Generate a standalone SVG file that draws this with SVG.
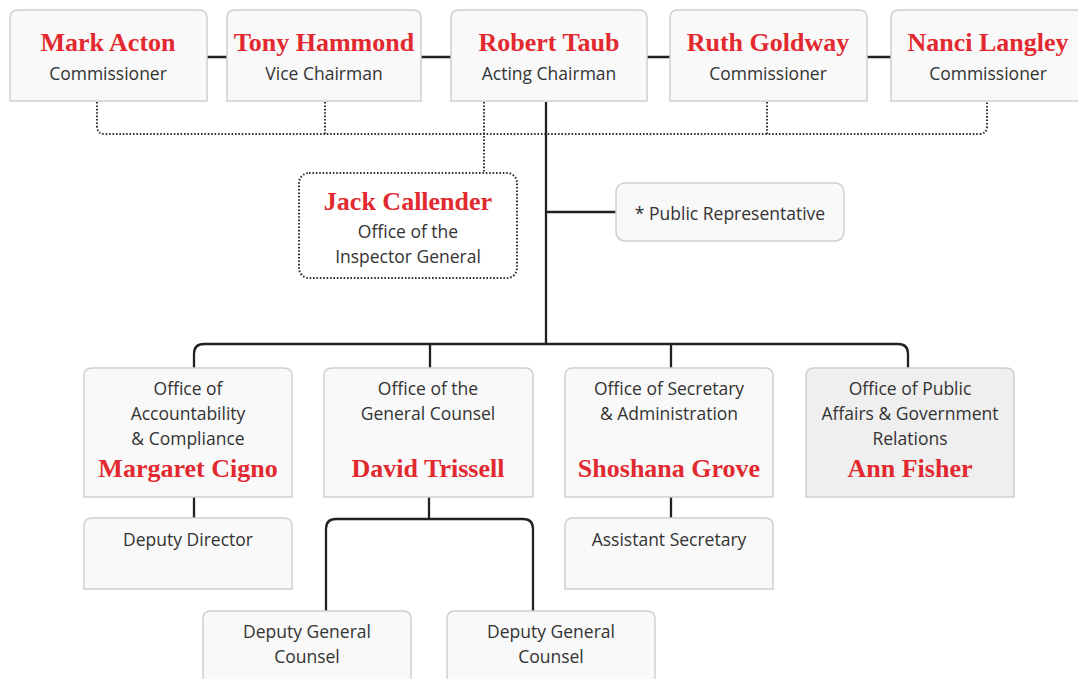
<svg xmlns="http://www.w3.org/2000/svg" width="1078" height="679" viewBox="0 0 1078 679">
<defs>
<style>
.box{fill:#f9f9f9;stroke:#cfcfcf;stroke-width:1.5}
.gray{fill:#efefef}
.dot{fill:none;stroke:#333;stroke-width:2;stroke-dasharray:1.6 1.8}
.line{fill:none;stroke:#222;stroke-width:2.3}
.name{font-family:"Liberation Serif",serif;font-weight:bold;font-size:26px;fill:#e2292f;text-anchor:middle}
.lab{font-family:"Open Sans","Liberation Sans",sans-serif;font-size:17.5px;fill:#333;text-anchor:middle}
</style>
</defs>
<rect width="1078" height="679" fill="#ffffff"/>
<g id="connectors">
<path class="line" d="M207 57H227M421 57H451M647 57H670M867 57H891"/>
<path class="dot" d="M97 102V126Q97 134 105 134H979Q987 134 987 126V102"/>
<path class="dot" d="M325 102V134M767 102V134M484 102V173"/>
<path class="line" d="M546 102V344M546 212H616"/>
<path class="line" d="M194 368V354Q194 344 204 344H898Q908 344 908 354V368"/>
<path class="line" d="M430 344V368M671 344V368"/>
<path class="line" d="M194 497V518M671 497V518"/>
<path class="line" d="M429 497V519M326 611V529Q326 519 336 519H523Q533 519 533 529V611"/>
</g>
<g id="n-acton"><path class="box" d="M10 101V18Q10 10 18 10H199Q207 10 207 18V101Z"/><text class="name" x="108" y="51">Mark Acton</text><text class="lab" x="108" y="80">Commissioner</text></g>
<g id="n-hammond"><path class="box" d="M227 101V18Q227 10 235 10H413Q421 10 421 18V101Z"/><text class="name" x="324" y="51">Tony Hammond</text><text class="lab" x="324" y="80">Vice Chairman</text></g>
<g id="n-taub"><path class="box" d="M451 101V18Q451 10 459 10H639Q647 10 647 18V101Z"/><text class="name" x="549" y="51">Robert Taub</text><text class="lab" x="549" y="80">Acting Chairman</text></g>
<g id="n-goldway"><path class="box" d="M670 101V18Q670 10 678 10H859Q867 10 867 18V101Z"/><text class="name" x="768" y="51">Ruth Goldway</text><text class="lab" x="768" y="80">Commissioner</text></g>
<g id="n-langley"><path class="box" d="M891 101V18Q891 10 899 10H1076Q1084 10 1084 18V101Z"/><text class="name" x="988" y="51">Nanci Langley</text><text class="lab" x="988" y="80">Commissioner</text></g>
<g id="n-callender"><rect x="299" y="173" width="218" height="105" rx="10" fill="#fdfdfd" class="dot"/><text class="name" x="408" y="210">Jack Callender</text><text class="lab" x="408" y="238">Office of the</text><text class="lab" x="408" y="263">Inspector General</text></g>
<g id="n-public"><rect class="box" x="616" y="183" width="228" height="58" rx="9"/><text class="lab" x="730" y="220">* Public Representative</text></g>
<g id="n-accountability"><path class="box" d="M84 497V376Q84 368 92 368H284Q292 368 292 376V497Z"/><text class="lab" x="188" y="395">Office of</text><text class="lab" x="188" y="420">Accountability</text><text class="lab" x="188" y="445">&amp; Compliance</text><text class="name" x="188" y="477">Margaret Cigno</text></g>
<g id="n-counsel"><path class="box" d="M324 497V376Q324 368 332 368H525Q533 368 533 376V497Z"/><text class="lab" x="428" y="395">Office of the</text><text class="lab" x="428" y="420">General Counsel</text><text class="name" x="428" y="477">David Trissell</text></g>
<g id="n-secretary"><path class="box" d="M565 497V376Q565 368 573 368H765Q773 368 773 376V497Z"/><text class="lab" x="669" y="395">Office of Secretary</text><text class="lab" x="669" y="420">&amp; Administration</text><text class="name" x="669" y="477">Shoshana Grove</text></g>
<g id="n-publicaffairs"><path class="box gray" d="M806 497V376Q806 368 814 368H1006Q1014 368 1014 376V497Z"/><text class="lab" x="910" y="395">Office of Public</text><text class="lab" x="910" y="420">Affairs &amp; Government</text><text class="lab" x="910" y="445">Relations</text><text class="name" x="910" y="477">Ann Fisher</text></g>
<g id="n-deputydirector"><path class="box" d="M84 589V526Q84 518 92 518H284Q292 518 292 526V589Z"/><text class="lab" x="188" y="546">Deputy Director</text></g>
<g id="n-assistant"><path class="box" d="M565 589V526Q565 518 573 518H765Q773 518 773 526V589Z"/><text class="lab" x="669" y="546">Assistant Secretary</text></g>
<g id="n-dgc1"><path class="box" d="M203 690V619Q203 611 211 611H403Q411 611 411 619V690Z"/><text class="lab" x="307" y="638">Deputy General</text><text class="lab" x="307" y="663">Counsel</text></g>
<g id="n-dgc2"><path class="box" d="M447 690V619Q447 611 455 611H647Q655 611 655 619V690Z"/><text class="lab" x="551" y="638">Deputy General</text><text class="lab" x="551" y="663">Counsel</text></g>
</svg>
